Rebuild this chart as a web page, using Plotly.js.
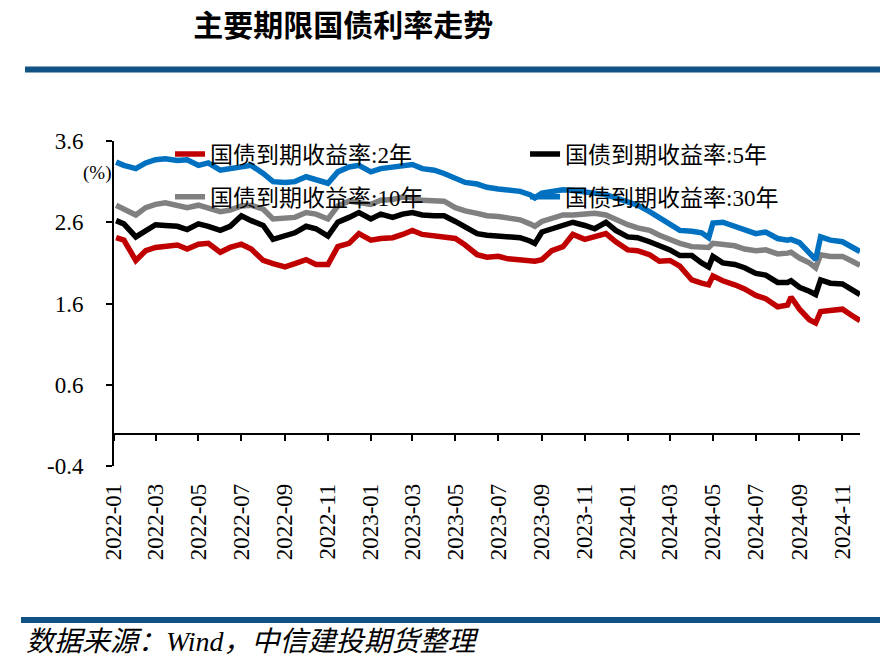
<!DOCTYPE html>
<html>
<head>
<meta charset="utf-8">
<script src="https://cdn.plot.ly/plotly-3.0.1.min.js"></script>
<style>
  html, body { margin: 0; padding: 0; background: #ffffff; }
  #chart { width: 880px; height: 666px; }
</style>
</head>
<body>
<div id="chart"></div>
<script>
// ---- data ----
const dates = [
  '2022-01-04','2022-01-15','2022-02-01','2022-02-15','2022-03-01','2022-03-15','2022-04-01','2022-04-15',
  '2022-05-01','2022-05-15','2022-06-01','2022-06-15','2022-07-01','2022-07-15','2022-08-01','2022-08-15',
  '2022-09-01','2022-09-15','2022-10-01','2022-10-15','2022-11-01','2022-11-15','2022-12-01','2022-12-15',
  '2023-01-01','2023-01-15','2023-02-01','2023-02-15','2023-03-01','2023-03-15','2023-04-01','2023-04-15',
  '2023-05-01','2023-05-15','2023-06-01','2023-06-15','2023-07-01','2023-07-15','2023-08-01','2023-08-15',
  '2023-08-22','2023-09-01','2023-09-15','2023-10-01','2023-10-15','2023-11-01','2023-11-15','2023-12-01',
  '2023-12-15',
  '2024-01-01','2024-01-15','2024-02-01','2024-02-15','2024-03-01','2024-03-15','2024-04-01','2024-04-15',
  '2024-04-25','2024-05-01','2024-05-15','2024-06-01','2024-06-15','2024-07-01','2024-07-15','2024-08-01',
  '2024-08-15','2024-08-20','2024-09-01','2024-09-15','2024-09-24','2024-10-01','2024-10-15','2024-11-01',
  '2024-11-15','2024-11-26'
];

const yield2y = [
  2.41,2.38,2.13,2.25,2.29,2.30,2.32,2.27,2.33,2.34,2.23,2.29,2.33,2.27,2.13,2.09,2.05,2.09,2.14,2.08,2.08,2.30,2.34,2.46,
  2.38,2.40,2.41,2.45,2.50,2.45,2.43,2.42,2.40,2.32,2.20,2.17,2.18,2.15,2.14,2.13,2.12,2.14,2.25,2.30,2.45,2.39,2.43,2.46,2.36,
  2.26,2.25,2.20,2.12,2.13,2.06,1.89,1.85,1.83,1.94,1.88,1.83,1.78,1.70,1.66,1.56,1.58,1.68,1.53,1.40,1.36,1.50,1.52,1.53,1.45,1.39
];

const yield5y = [
  2.62,2.58,2.42,2.50,2.57,2.56,2.55,2.51,2.58,2.55,2.50,2.55,2.68,2.62,2.56,2.39,2.43,2.47,2.55,2.52,2.43,2.60,2.66,2.72,
  2.64,2.70,2.66,2.70,2.72,2.69,2.68,2.68,2.61,2.54,2.46,2.44,2.43,2.42,2.41,2.37,2.34,2.48,2.52,2.56,2.60,2.56,2.52,2.60,2.50,
  2.42,2.41,2.36,2.31,2.26,2.19,2.19,2.10,2.05,2.18,2.10,2.08,2.04,1.97,1.95,1.86,1.86,1.88,1.80,1.75,1.71,1.89,1.85,1.84,1.77,1.71
];

const yield10y = [
  2.81,2.76,2.69,2.78,2.82,2.84,2.80,2.78,2.81,2.78,2.73,2.75,2.80,2.81,2.76,2.64,2.65,2.66,2.72,2.70,2.64,2.80,2.86,2.84,
  2.82,2.87,2.88,2.91,2.90,2.87,2.86,2.86,2.78,2.74,2.71,2.68,2.67,2.65,2.63,2.58,2.55,2.61,2.65,2.69,2.69,2.71,2.71,2.69,2.63,
  2.57,2.53,2.50,2.44,2.38,2.34,2.30,2.30,2.29,2.34,2.32,2.31,2.27,2.25,2.26,2.21,2.22,2.23,2.16,2.10,2.04,2.20,2.18,2.18,2.12,2.07
];

const yield30y = [
  3.34,3.30,3.26,3.33,3.37,3.38,3.36,3.37,3.30,3.33,3.24,3.26,3.27,3.30,3.20,3.10,3.09,3.10,3.16,3.13,3.08,3.22,3.28,3.30,
  3.22,3.26,3.28,3.30,3.31,3.26,3.24,3.20,3.14,3.09,3.07,3.03,3.01,3.00,2.98,2.94,2.90,2.96,2.98,3.00,2.99,2.97,2.96,2.94,2.90,
  2.85,2.81,2.73,2.65,2.57,2.50,2.49,2.47,2.41,2.59,2.60,2.55,2.52,2.46,2.48,2.40,2.38,2.39,2.35,2.22,2.14,2.42,2.38,2.36,2.30,2.24
];

const seriesNames = ['国债到期收益率:2年', '国债到期收益率:5年', '国债到期收益率:10年', '国债到期收益率:30年'];
const seriesColors = ['#C00000', '#000000', '#808080', '#0070C0'];

const xTickVals = [
  '2022-01-01','2022-03-01','2022-05-01','2022-07-01','2022-09-01','2022-11-01',
  '2023-01-01','2023-03-01','2023-05-01','2023-07-01','2023-09-01','2023-11-01',
  '2024-01-01','2024-03-01','2024-05-01','2024-07-01','2024-09-01','2024-11-01'
];
const yTickVals = [-0.4, 0.6, 1.6, 2.6, 3.6];
const yTickText = ['-0.4', '0.6', '1.6', '2.6', '3.6'];

const titleText = '主要期限国债利率走势';
const unitText = '(%)';
const sourceText = '数据来源：Wind，中信建投期货整理';

// ---- chart ----
const serif = "'Liberation Serif', 'Times New Roman', 'Noto Sans CJK SC', serif";
const seriesY = [yield2y, yield5y, yield10y, yield30y];
const legendIds = ['legend', 'legend2', 'legend3', 'legend4'];

const traces = seriesY.map((ys, i) => ({
  type: 'scatter',
  mode: 'lines',
  x: dates,
  y: ys,
  name: seriesNames[i],
  legend: legendIds[i],
  line: { color: seriesColors[i], width: 5.5 },
  hoverinfo: 'skip'
}));

const legendFont = { family: serif, size: 23, color: '#000000' };
function legendAt(x, y) {
  return {
    x: x, y: y, xanchor: 'left', yanchor: 'middle',
    bgcolor: 'rgba(0,0,0,0)', borderwidth: 0,
    font: legendFont, itemwidth: 30
  };
}

const layout = {
  width: 880,
  height: 666,
  margin: { l: 114, r: 20, t: 141, b: 200, autoexpand: false },
  paper_bgcolor: '#ffffff',
  plot_bgcolor: '#ffffff',
  showlegend: true,
  title: {
    text: titleText,
    x: 0.39, xref: 'container', xanchor: 'center',
    y: 0.962, yref: 'container', yanchor: 'middle',
    font: { family: "'Noto Sans CJK SC', sans-serif", size: 30, weight: 700, color: '#000000' }
  },
  xaxis: {
    type: 'date',
    range: ['2022-01-01', '2024-11-26'],
    anchor: 'free',
    position: 0.1,
    showline: true, linecolor: '#000000', linewidth: 2,
    showgrid: false, zeroline: false,
    ticks: 'outside', ticklen: 6, tickwidth: 2, tickcolor: '#000000',
    tickvals: xTickVals,
    tickformat: '%Y-%m',
    tickangle: -90,
    ticklabelstandoff: 34,
    tickfont: { family: serif, size: 23, color: '#000000' }
  },
  yaxis: {
    range: [-0.4, 3.6],
    showline: true, linecolor: '#000000', linewidth: 2,
    showgrid: false, zeroline: false,
    ticks: 'outside', ticklen: 6, tickwidth: 2, tickcolor: '#000000',
    tickvals: yTickVals, ticktext: yTickText,
    ticklabelstandoff: 18,
    tickfont: { family: serif, size: 23, color: '#000000' }
  },
  legend: legendAt(0.0751, 0.960),
  legend2: legendAt(0.551, 0.960),
  legend3: legendAt(0.0751, 0.828),
  legend4: legendAt(0.551, 0.828),
  shapes: [
    { type: 'line', xref: 'paper', yref: 'paper', x0: -0.1193, x1: 1.0268, y0: 1.22, y1: 1.22,
      line: { color: '#0F5283', width: 6 } },
    { type: 'line', xref: 'paper', yref: 'paper', x0: -0.1247, x1: 1.0268, y0: -0.4738, y1: -0.4738,
      line: { color: '#0F5283', width: 6 } }
  ],
  annotations: [
    { text: unitText, xref: 'paper', yref: 'paper', x: -0.001, y: 0.9015,
      xanchor: 'right', yanchor: 'middle', showarrow: false,
      font: { family: serif, size: 19, color: '#000000' } },
    { text: sourceText, xref: 'paper', yref: 'paper', x: -0.1206, y: -0.5385,
      xanchor: 'left', yanchor: 'middle', showarrow: false,
      font: { family: serif, size: 28, style: 'italic', color: '#000000' } }
  ],
  hovermode: false
};

Plotly.newPlot('chart', traces, layout, { displayModeBar: false, staticPlot: true });
</script>
</body>
</html>
